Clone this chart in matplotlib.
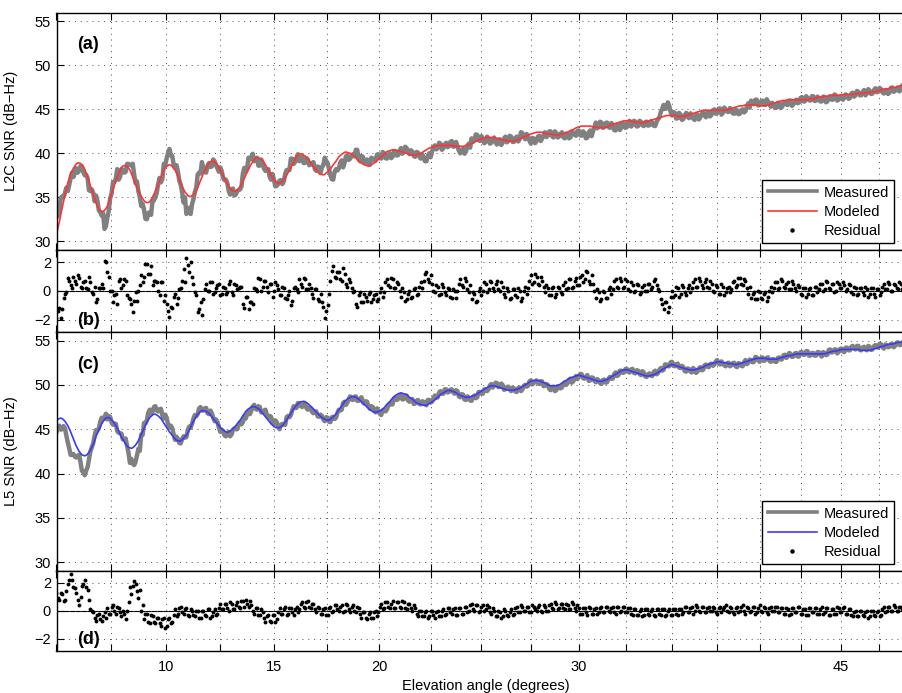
import numpy as np
import matplotlib
matplotlib.use("Agg")
import matplotlib.pyplot as plt
from matplotlib.lines import Line2D

plt.rcParams['font.family'] = ['Liberation Sans', 'DejaVu Sans']

# Samples are evenly spaced in sin(elevation)
N_SAMPLES = 600
elevation = np.degrees(np.arcsin(np.linspace(np.sin(np.radians(5.0)),
                                             np.sin(np.radians(49.05)), N_SAMPLES)))

# L2C modeled SNR (dB-Hz)
l2c_model = [
    30.8, 31.5, 32.2, 33.0, 33.8, 34.55, 35.3, 36.0, 36.6, 37.1, 37.6, 38.0, 38.3, 38.55, 38.8, 38.9, 38.9, 38.85, 38.7, 38.45,
    38.2, 37.75, 37.3, 36.8, 36.3, 35.8, 35.3, 34.85, 34.4, 34.0, 33.7, 33.5, 33.4, 33.4, 33.5, 33.7, 34.0, 34.45, 34.9, 35.4,
    35.9, 36.4, 36.9, 37.3, 37.7, 38.1, 38.4, 38.55, 38.6, 38.6, 38.5, 38.3, 38.1, 37.7, 37.3, 36.9, 36.5, 36.1, 35.7, 35.4,
    35.1, 34.85, 34.6, 34.45, 34.4, 34.4, 34.5, 34.7, 35.0, 35.35, 35.7, 36.1, 36.5, 36.9, 37.3, 37.7, 38.1, 38.35, 38.5, 38.65,
    38.7, 38.65, 38.5, 38.3, 38.1, 37.75, 37.4, 37.0, 36.6, 36.25, 35.9, 35.6, 35.4, 35.2, 35.1, 35.1, 35.2, 35.3, 35.5, 35.8,
    36.1, 36.5, 36.9, 37.3, 37.7, 38.0, 38.3, 38.6, 38.9, 39.05, 39.1, 39.1, 39.0, 38.85, 38.7, 38.4, 38.1, 37.8, 37.5, 37.15,
    36.8, 36.5, 36.2, 36.0, 35.8, 35.7, 35.7, 35.7, 35.8, 36.0, 36.2, 36.5, 36.8, 37.15, 37.5, 37.85, 38.2, 38.5, 38.8, 39.05,
    39.3, 39.45, 39.5, 39.5, 39.4, 39.3, 39.2, 38.95, 38.7, 38.4, 38.1, 37.8, 37.5, 37.25, 37.0, 36.85, 36.7, 36.6, 36.6, 36.65,
    36.8, 37.0, 37.2, 37.5, 37.8, 38.1, 38.4, 38.7, 39.0, 39.3, 39.6, 39.8, 39.9, 39.95, 39.9, 39.8, 39.7, 39.55, 39.4, 39.15,
    38.9, 38.7, 38.5, 38.3, 38.1, 37.9, 37.7, 37.6, 37.6, 37.55, 37.6, 37.75, 37.9, 38.05, 38.2, 38.45, 38.7, 38.9, 39.1, 39.35,
    39.6, 39.75, 39.9, 40.0, 40.1, 40.15, 40.1, 40.05, 40.0, 39.9, 39.8, 39.65, 39.5, 39.3, 39.1, 39.0, 38.9, 38.8, 38.7, 38.65,
    38.6, 38.55, 38.6, 38.7, 38.8, 38.9, 39.0, 39.15, 39.3, 39.45, 39.6, 39.75, 39.9, 40.05, 40.2, 40.25, 40.3, 40.35, 40.4, 40.4,
    40.4, 40.35, 40.3, 40.25, 40.2, 40.15, 40.1, 40.05, 40.0, 39.95, 39.9, 39.85, 39.8, 39.8, 39.8, 39.85, 39.9, 39.95, 40.0, 40.1,
    40.2, 40.3, 40.4, 40.5, 40.6, 40.65, 40.7, 40.75, 40.8, 40.85, 40.9, 40.9, 40.9, 40.9, 40.9, 40.9, 40.9, 40.9, 40.9, 40.9,
    40.9, 40.85, 40.8, 40.8, 40.8, 40.8, 40.8, 40.8, 40.8, 40.85, 40.9, 40.95, 41.0, 41.05, 41.1, 41.2, 41.3, 41.35, 41.4, 41.5,
    41.6, 41.65, 41.7, 41.75, 41.8, 41.8, 41.8, 41.8, 41.8, 41.8, 41.8, 41.75, 41.7, 41.65, 41.6, 41.55, 41.5, 41.5, 41.5, 41.45,
    41.4, 41.4, 41.4, 41.4, 41.4, 41.45, 41.5, 41.55, 41.6, 41.7, 41.8, 41.85, 41.9, 42.0, 42.1, 42.15, 42.2, 42.25, 42.3, 42.35,
    42.4, 42.4, 42.4, 42.4, 42.4, 42.35, 42.3, 42.25, 42.2, 42.2, 42.2, 42.15, 42.1, 42.1, 42.1, 42.1, 42.1, 42.15, 42.2, 42.25,
    42.3, 42.35, 42.4, 42.5, 42.6, 42.65, 42.7, 42.8, 42.9, 42.95, 43.0, 43.05, 43.1, 43.1, 43.1, 43.1, 43.1, 43.1, 43.1, 43.05,
    43.0, 43.0, 43.0, 42.95, 42.9, 42.9, 42.9, 42.9, 42.9, 42.95, 43.0, 43.1, 43.2, 43.25, 43.3, 43.35, 43.4, 43.45, 43.5, 43.55,
    43.6, 43.65, 43.7, 43.7, 43.7, 43.7, 43.7, 43.65, 43.6, 43.6, 43.6, 43.55, 43.5, 43.5, 43.5, 43.5, 43.5, 43.55, 43.6, 43.65,
    43.7, 43.75, 43.8, 43.85, 43.9, 43.95, 44.0, 44.05, 44.1, 44.15, 44.2, 44.25, 44.3, 44.3, 44.3, 44.3, 44.3, 44.3, 44.3, 44.25,
    44.2, 44.2, 44.2, 44.2, 44.2, 44.25, 44.3, 44.35, 44.4, 44.45, 44.5, 44.55, 44.6, 44.65, 44.7, 44.75, 44.8, 44.85, 44.9, 44.9,
    44.9, 44.9, 44.9, 44.9, 44.9, 44.9, 44.9, 44.9, 44.9, 44.9, 44.9, 44.9, 44.9, 44.9, 44.9, 44.95, 45.0, 45.05, 45.1, 45.15,
    45.2, 45.25, 45.3, 45.35, 45.4, 45.4, 45.4, 45.45, 45.5, 45.5, 45.5, 45.5, 45.5, 45.5, 45.5, 45.5, 45.5, 45.45, 45.4, 45.4,
    45.4, 45.4, 45.4, 45.45, 45.5, 45.55, 45.6, 45.65, 45.7, 45.75, 45.8, 45.85, 45.9, 45.95, 46.0, 46.0, 46.0, 46.05, 46.1, 46.1,
    46.1, 46.1, 46.1, 46.1, 46.1, 46.1, 46.1, 46.1, 46.1, 46.1, 46.1, 46.1, 46.1, 46.15, 46.2, 46.2, 46.2, 46.25, 46.3, 46.35,
    46.4, 46.4, 46.4, 46.45, 46.5, 46.5, 46.5, 46.55, 46.6, 46.6, 46.6, 46.6, 46.6, 46.6, 46.6, 46.65, 46.7, 46.7, 46.7, 46.7,
    46.7, 46.7, 46.7, 46.7, 46.7, 46.75, 46.8, 46.8, 46.8, 46.8, 46.8, 46.85, 46.9, 46.9, 46.9, 46.9, 46.9, 46.95, 47.0, 47.0,
    47.0, 47.05, 47.1, 47.15, 47.2, 47.25, 47.3, 47.3, 47.3, 47.35, 47.4, 47.45, 47.5, 47.5, 47.5, 47.55, 47.6, 47.65, 47.7, 47.75,
]

# L2C residual, modeled minus measured (dB)
l2c_resid = [
    -1.9, -1.4, -1.2, -1.9, -1.3, -0.5, -0.2, -0.1, 0.9, 0.7, 0.4, 0.2, 1.0, 0.7, 0.5, 1.1, 0.9, 0.3, 0.2, 0.6,
    0.7, 0.2, 0.1, 1.0, 0.6, -0.1, -0.2, 0.3, -0.8, -0.6, 0.2, 0.2, 0.5, 0.2, 2.1, 2.0, 1.3, 1.0, 0.0, 0.0,
    -0.8, -0.3, -0.2, -0.9, 0.7, 0.8, 0.2, 0.4, 0.8, 0.7, -0.3, -0.5, -0.6, -0.9, -1.5, -0.7, -0.1, -0.7, 0.0, 0.4,
    1.1, 0.6, 1.0, 1.9, 1.9, 1.2, 1.2, 1.7, 0.4, 0.7, 0.7, 0.6, 0.0, -0.3, 0.6, 0.6, -0.7, -0.3, -0.9, -1.4,
    -1.8, -1.1, -1.2, -0.4, -0.2, -0.9, -0.5, 0.1, 0.2, 0.7, 1.5, 0.6, 2.3, 1.8, 1.3, 2.0, 1.0, 0.5, -0.1, -0.3,
    -1.5, -1.3, -0.8, -1.7, -0.6, 0.1, 0.5, 0.0, 0.0, 0.6, 0.6, -0.2, -0.1, 0.2, 0.4, 0.5, -0.3, -0.2, 0.3, 0.2,
    -0.2, -0.1, 0.5, 0.7, -0.1, -0.3, 0.5, 0.4, 0.1, 0.2, 0.3, 0.3, -0.9, -1.2, -0.4, -0.4, -1.3, -0.8, -0.8, -0.9,
    0.2, 0.1, 0.0, 0.9, 0.8, 0.0, 0.3, 0.7, 0.7, 0.3, -0.1, 0.5, 0.5, -0.4, 0.0, 0.6, 0.4, 0.1, -0.3, -0.3,
    0.3, 0.2, -0.5, -0.6, -0.3, 0.0, -1.0, -0.7, 0.2, 0.3, 0.1, -0.1, 0.8, 0.5, 0.3, 0.9, 0.8, 0.1, 0.1, 0.5,
    0.2, -0.2, -0.5, 0.1, 0.1, -0.6, -0.7, -0.2, -0.8, -1.1, -1.9, -1.4, -1.0, -0.2, 0.7, 1.4, 1.7, 1.0, 0.9, 1.3,
    1.3, 0.8, 0.7, 1.6, 1.2, 0.5, 0.3, 0.8, 0.6, 0.2, -0.1, 0.0, -0.9, -1.1, -0.3, -0.1, -0.8, -0.8, -0.2, -0.4,
    -0.7, -0.2, -0.1, -0.8, -0.6, -0.3, -0.2, -0.7, -0.6, -0.1, 0.2, -0.4, -0.1, 0.6, 0.8, 0.4, 0.3, 0.9, 0.8, 0.2,
    0.2, 0.6, 0.5, 0.0, -0.4, 0.2, -0.1, -0.7, -0.6, -0.2, 0.0, -0.5, -0.4, 0.1, 0.2, -0.3, -0.2, 0.3, 0.6, 0.2,
    0.7, 1.2, 1.3, 0.8, 0.6, 1.1, 0.5, 0.0, -0.1, 0.4, 0.3, -0.3, -0.2, 0.5, 0.3, -0.1, -0.3, 0.2, 0.1, -0.4,
    -0.5, 0.1, 0.0, -0.5, 0.0, 0.5, 0.8, 0.4, 0.3, 0.9, 0.7, 0.1, -0.1, 0.4, -0.6, -0.1, -0.2, -0.8, -0.7, 0.0,
    0.2, -0.3, 0.0, 0.6, 0.5, -0.1, 0.1, 0.7, 0.6, 0.2, 0.0, 0.5, 0.7, 0.1, 0.0, 0.6, 0.3, -0.2, -0.4, 0.2,
    0.0, -0.6, -0.5, 0.1, 0.1, -0.3, -0.4, 0.2, 0.0, -0.7, -0.5, 0.0, 0.3, -0.2, 0.2, 0.7, 1.1, 0.5, 0.6, 1.2,
    1.0, 0.5, 0.4, 1.0, 0.7, 0.3, -0.1, 0.4, 0.2, -0.3, -0.3, 0.2, 0.3, -0.4, -0.2, 0.3, 0.2, -0.1, -0.2, 0.4,
    0.6, 0.1, 0.2, 0.8, 0.8, 0.2, 0.3, 0.7, 0.9, 0.4, 0.4, 1.0, 1.1, 0.6, 0.8, 1.4, 1.3, 0.7, 0.5, 1.1,
    0.5, 0.0, -0.5, 0.1, -0.1, -0.7, -0.6, 0.0, -0.1, -0.5, -0.5, 0.1, 0.3, -0.2, 0.1, 0.7, 0.8, 0.3, 0.2, 0.9,
    0.7, 0.2, 0.3, 0.8, 0.7, 0.1, 0.0, 0.6, 0.4, -0.1, 0.0, 0.5, 0.4, -0.2, -0.1, 0.3, 0.4, 0.0, 0.0, 0.5,
    0.5, 0.1, 0.3, 0.7, 0.8, 0.4, 0.1, 0.0, -0.6, -0.9, -1.3, -0.8, -0.8, -1.5, -1.1, -0.4, 0.0, -0.4, -0.3, 0.3,
    0.2, -0.4, -0.2, 0.4, 0.3, -0.1, -0.3, 0.2, 0.4, -0.1, 0.2, 0.6, 0.8, 0.3, 0.3, 0.9, 0.7, 0.4, 0.2, 0.6,
    0.8, 0.3, 0.2, 0.7, 0.5, 0.0, -0.1, 0.4, 0.3, -0.2, -0.2, 0.5, 0.3, -0.3, -0.1, 0.2, 0.3, -0.1, 0.1, 0.6,
    0.7, 0.3, 0.4, 0.9, 0.9, 0.5, 0.4, 0.8, 0.7, 0.2, -0.2, 0.3, -0.5, -0.2, -0.1, -0.6, -0.6, 0.0, -0.1, -0.5,
    -0.6, -0.2, -0.1, -0.7, -0.4, 0.0, 0.3, -0.1, 0.2, 0.6, 0.6, 0.1, 0.2, 0.8, 0.7, 0.3, 0.2, 0.5, 0.6, 0.1,
    0.1, 0.7, 0.5, 0.2, 0.0, 0.4, 0.3, -0.2, -0.3, 0.2, 0.2, -0.4, -0.2, 0.1, 0.2, -0.3, -0.3, 0.3, 0.3, -0.1,
    0.1, 0.5, 0.5, 0.0, 0.1, 0.7, 0.6, 0.2, 0.1, 0.5, 0.5, -0.1, 0.0, 0.6, 0.5, 0.2, 0.2, 0.6, 0.4, 0.0,
    0.1, 0.5, 0.4, -0.1, -0.2, 0.3, 0.2, -0.3, -0.2, 0.2, 0.2, -0.1, -0.3, 0.3, 0.1, -0.4, -0.2, 0.2, 0.2, -0.2,
    -0.4, 0.1, 0.1, -0.3, -0.1, 0.3, 0.5, 0.1, 0.1, 0.6, 0.5, 0.0, 0.0, 0.5, 0.4, 0.2, 0.1, 0.6, 0.5, 0.1,
]

# L5 modeled SNR (dB-Hz)
l5_model = [
    46.0, 46.1, 46.2, 46.25, 46.2, 46.05, 45.9, 45.65, 45.4, 45.05, 44.7, 44.3, 43.9, 43.5, 43.1, 42.8, 42.5, 42.3, 42.1, 42.05,
    42.0, 42.05, 42.2, 42.4, 42.6, 42.95, 43.3, 43.75, 44.2, 44.55, 44.9, 45.25, 45.6, 45.85, 46.1, 46.25, 46.3, 46.3, 46.2, 46.05,
    45.9, 45.65, 45.4, 45.1, 44.8, 44.45, 44.1, 43.85, 43.6, 43.35, 43.1, 42.95, 42.9, 42.85, 42.9, 43.05, 43.2, 43.45, 43.7, 44.05,
    44.4, 44.75, 45.1, 45.45, 45.8, 46.05, 46.3, 46.45, 46.6, 46.7, 46.7, 46.6, 46.5, 46.35, 46.2, 45.95, 45.7, 45.45, 45.2, 44.95,
    44.7, 44.5, 44.3, 44.1, 43.9, 43.75, 43.7, 43.65, 43.7, 43.8, 44.0, 44.15, 44.3, 44.6, 44.9, 45.25, 45.6, 45.9, 46.2, 46.45,
    46.7, 46.85, 47.0, 47.1, 47.1, 47.05, 47.0, 46.9, 46.8, 46.6, 46.4, 46.2, 46.0, 45.8, 45.6, 45.4, 45.2, 45.05, 44.9, 44.8,
    44.7, 44.65, 44.7, 44.8, 44.9, 45.05, 45.2, 45.4, 45.6, 45.8, 46.0, 46.25, 46.5, 46.75, 47.0, 47.15, 47.3, 47.4, 47.5, 47.55,
    47.55, 47.5, 47.4, 47.3, 47.2, 47.0, 46.8, 46.6, 46.4, 46.2, 46.0, 45.8, 45.6, 45.45, 45.3, 45.2, 45.2, 45.15, 45.2, 45.3,
    45.4, 45.6, 45.8, 46.05, 46.3, 46.55, 46.8, 47.05, 47.3, 47.5, 47.7, 47.85, 48.0, 48.1, 48.1, 48.15, 48.1, 48.0, 47.9, 47.75,
    47.6, 47.45, 47.3, 47.1, 46.9, 46.75, 46.6, 46.45, 46.3, 46.2, 46.1, 46.05, 46.0, 46.05, 46.1, 46.25, 46.4, 46.55, 46.7, 46.95,
    47.2, 47.4, 47.6, 47.85, 48.1, 48.25, 48.4, 48.5, 48.6, 48.65, 48.7, 48.65, 48.6, 48.5, 48.4, 48.25, 48.1, 47.95, 47.8, 47.65,
    47.5, 47.35, 47.2, 47.1, 47.0, 46.95, 46.9, 46.95, 47.0, 47.05, 47.1, 47.25, 47.4, 47.6, 47.8, 47.95, 48.1, 48.3, 48.5, 48.65,
    48.8, 48.9, 49.0, 49.05, 49.1, 49.05, 49.0, 48.95, 48.9, 48.75, 48.6, 48.5, 48.4, 48.25, 48.1, 48.0, 47.9, 47.85, 47.8, 47.75,
    47.7, 47.7, 47.7, 47.8, 47.9, 48.0, 48.1, 48.2, 48.3, 48.45, 48.6, 48.75, 48.9, 49.0, 49.1, 49.2, 49.3, 49.35, 49.4, 49.35,
    49.3, 49.25, 49.2, 49.1, 49.0, 48.9, 48.8, 48.75, 48.7, 48.65, 48.6, 48.6, 48.6, 48.65, 48.7, 48.75, 48.8, 48.9, 49.0, 49.1,
    49.2, 49.3, 49.4, 49.5, 49.6, 49.7, 49.8, 49.85, 49.9, 49.9, 49.9, 49.85, 49.8, 49.75, 49.7, 49.65, 49.6, 49.55, 49.5, 49.45,
    49.4, 49.4, 49.4, 49.4, 49.4, 49.45, 49.5, 49.55, 49.6, 49.7, 49.8, 49.9, 50.0, 50.1, 50.2, 50.3, 50.4, 50.45, 50.5, 50.5,
    50.5, 50.5, 50.5, 50.4, 50.3, 50.25, 50.2, 50.1, 50.0, 49.95, 49.9, 49.9, 49.9, 49.9, 49.9, 49.95, 50.0, 50.1, 50.2, 50.3,
    50.4, 50.5, 50.6, 50.7, 50.8, 50.85, 50.9, 50.95, 51.0, 51.05, 51.1, 51.05, 51.0, 50.95, 50.9, 50.85, 50.8, 50.75, 50.7, 50.65,
    50.6, 50.55, 50.5, 50.45, 50.4, 50.4, 50.4, 50.45, 50.5, 50.55, 50.6, 50.7, 50.8, 50.9, 51.0, 51.1, 51.2, 51.3, 51.4, 51.5,
    51.6, 51.65, 51.7, 51.7, 51.7, 51.65, 51.6, 51.55, 51.5, 51.45, 51.4, 51.35, 51.3, 51.25, 51.2, 51.15, 51.1, 51.05, 51.0, 51.0,
    51.0, 51.05, 51.1, 51.15, 51.2, 51.3, 51.4, 51.5, 51.6, 51.7, 51.8, 51.9, 52.0, 52.1, 52.2, 52.25, 52.3, 52.25, 52.2, 52.15,
    52.1, 52.05, 52.0, 51.95, 51.9, 51.85, 51.8, 51.75, 51.7, 51.7, 51.7, 51.7, 51.7, 51.75, 51.8, 51.85, 51.9, 51.95, 52.0, 52.1,
    52.2, 52.25, 52.3, 52.35, 52.4, 52.45, 52.5, 52.55, 52.6, 52.6, 52.6, 52.55, 52.5, 52.5, 52.5, 52.45, 52.4, 52.4, 52.4, 52.35,
    52.3, 52.3, 52.3, 52.35, 52.4, 52.45, 52.5, 52.55, 52.6, 52.65, 52.7, 52.75, 52.8, 52.85, 52.9, 52.95, 53.0, 53.0, 53.0, 53.0,
    53.0, 53.0, 53.0, 52.95, 52.9, 52.9, 52.9, 52.9, 52.9, 52.9, 52.9, 52.95, 53.0, 53.05, 53.1, 53.15, 53.2, 53.25, 53.3, 53.3,
    53.3, 53.35, 53.4, 53.45, 53.5, 53.5, 53.5, 53.5, 53.5, 53.5, 53.5, 53.5, 53.5, 53.5, 53.5, 53.5, 53.5, 53.5, 53.5, 53.5,
    53.5, 53.5, 53.5, 53.5, 53.5, 53.55, 53.6, 53.65, 53.7, 53.75, 53.8, 53.8, 53.8, 53.85, 53.9, 53.95, 54.0, 54.0, 54.0, 54.0,
    54.0, 54.0, 54.0, 54.0, 54.0, 54.0, 54.0, 54.0, 54.0, 53.95, 53.9, 53.9, 53.9, 53.9, 53.9, 53.9, 53.9, 53.95, 54.0, 54.05,
    54.1, 54.15, 54.2, 54.25, 54.3, 54.35, 54.4, 54.45, 54.5, 54.55, 54.6, 54.6, 54.6, 54.65, 54.7, 54.75, 54.8, 54.8, 54.8, 54.85,
]

# L5 residual, modeled minus measured (dB)
l5_resid = [
    1.3, 0.9, 0.8, 1.3, 1.2, 0.7, 0.8, 1.4, 1.9, 2.2, 2.6, 2.2, 1.7, 1.6, 1.3, 0.8, 0.4, 1.0, 1.8, 1.9,
    2.2, 1.7, 1.5, 0.8, 0.1, 0.0, -0.1, -0.5, -0.7, -0.3, -0.2, -0.6, -0.7, -0.4, -0.1, -0.5, 0.2, -0.2, -0.2, 0.3,
    0.4, 0.0, -0.2, 0.3, 0.2, -0.1, -0.4, 0.0, -0.2, -0.6, 0.0, 0.6, 1.7, 1.2, 1.8, 2.1, 1.9, 1.4, 0.9, 1.5,
    0.0, 0.4, -0.6, -0.2, -0.2, -0.8, -0.9, -0.3, -0.4, -0.8, -0.9, -0.5, -0.5, -0.9, -1.1, -0.6, -0.5, -1.2, -1.1, -0.6,
    -0.5, -0.9, -0.8, -0.3, 0.1, -0.4, -0.2, 0.2, 0.3, -0.1, -0.2, 0.1, 0.2, -0.3, -0.4, 0.1, 0.0, -0.3, -0.4, 0.0,
    0.0, -0.5, -0.5, 0.0, 0.0, -0.3, -0.4, 0.1, 0.1, -0.5, -0.4, -0.1, 0.1, -0.3, -0.2, 0.2, 0.5, 0.1, 0.1, 0.5,
    0.5, 0.2, 0.0, 0.6, 0.5, 0.1, 0.1, 0.4, 0.6, 0.3, 0.2, 0.7, 0.7, 0.3, 0.8, 0.5, 0.3, 0.7, 0.4, 0.0,
    -0.2, 0.2, 0.2, -0.3, -0.3, 0.1, -0.1, -0.5, -0.8, -0.4, -0.3, -0.7, -0.8, -0.3, -0.3, -0.8, -0.6, -0.1, 0.2, -0.2,
    -0.2, 0.1, 0.3, -0.3, -0.2, 0.2, 0.2, -0.1, -0.3, 0.1, 0.3, -0.1, 0.1, 0.5, 0.6, 0.3, 0.2, 0.6, 0.7, 0.3,
    0.2, 0.5, 0.5, 0.1, -0.1, 0.3, 0.2, -0.2, -0.2, 0.1, 0.2, -0.3, -0.3, 0.2, 0.3, -0.1, 0.0, 0.4, 0.4, 0.1,
    0.0, 0.3, 0.4, -0.1, 0.0, 0.5, 0.4, 0.1, -0.1, 0.3, 0.4, 0.0, -0.1, 0.3, 0.2, -0.2, -0.5, -0.1, -0.1, -0.5,
    -0.6, -0.2, -0.1, -0.5, -0.5, -0.1, 0.0, -0.4, -0.1, 0.3, 0.5, 0.1, 0.2, 0.6, 0.6, 0.3, 0.2, 0.5, 0.7, 0.2,
    0.2, 0.6, 0.6, 0.3, 0.2, 0.7, 0.6, 0.2, 0.1, 0.5, 0.5, 0.2, 0.0, 0.4, 0.2, -0.2, -0.4, 0.0, 0.0, -0.4,
    -0.4, -0.1, 0.0, -0.5, -0.4, 0.0, 0.0, -0.3, -0.5, -0.1, 0.0, -0.4, -0.4, 0.0, 0.1, -0.3, -0.2, 0.2, 0.2, -0.1,
    -0.2, 0.1, 0.2, -0.3, -0.3, 0.2, 0.2, -0.2, -0.2, 0.3, 0.3, -0.1, 0.0, 0.4, 0.5, 0.1, 0.0, 0.4, 0.4, -0.1,
    0.0, 0.3, 0.4, 0.0, 0.1, 0.4, 0.3, -0.1, -0.2, 0.2, 0.0, -0.4, -0.4, 0.0, -0.1, -0.5, -0.4, 0.1, 0.0, -0.3,
    -0.4, -0.1, 0.1, -0.3, -0.2, 0.2, 0.3, -0.1, -0.1, 0.4, 0.3, 0.0, 0.0, 0.3, 0.3, -0.1, -0.1, 0.4, 0.3, 0.1,
    0.0, 0.3, 0.4, 0.0, -0.1, 0.4, 0.3, 0.0, 0.0, 0.4, 0.5, 0.2, 0.1, 0.6, 0.5, 0.1, 0.2, 0.5, 0.5, 0.2,
    0.1, 0.5, 0.4, 0.1, 0.1, 0.6, 0.5, 0.2, 0.0, 0.4, 0.2, -0.2, -0.2, 0.2, 0.2, -0.1, -0.3, 0.3, 0.2, -0.2,
    -0.2, 0.1, 0.2, -0.2, -0.1, 0.2, 0.3, -0.1, -0.1, 0.3, 0.3, 0.0, -0.1, 0.2, 0.3, -0.1, -0.2, 0.3, 0.3, -0.1,
    0.0, 0.3, 0.3, -0.1, -0.1, 0.2, 0.2, -0.2, -0.3, 0.1, 0.1, -0.3, -0.3, 0.0, 0.1, -0.4, -0.3, 0.1, 0.1, -0.2,
    -0.3, 0.0, 0.1, -0.3, -0.4, 0.1, 0.1, -0.2, -0.3, 0.1, 0.1, -0.4, -0.3, 0.0, 0.1, -0.3, -0.3, 0.1, 0.1, -0.2,
    -0.3, 0.1, 0.1, -0.2, -0.1, 0.3, 0.3, -0.1, -0.1, 0.2, 0.3, -0.2, 0.0, 0.4, 0.3, 0.0, -0.1, 0.3, 0.3, -0.1,
    -0.1, 0.2, 0.3, 0.0, 0.0, 0.3, 0.2, -0.1, -0.2, 0.2, 0.3, -0.1, 0.1, 0.3, 0.4, 0.0, -0.1, 0.3, 0.2, -0.1,
    -0.2, 0.2, 0.3, -0.1, 0.0, 0.3, 0.4, 0.0, -0.2, 0.3, 0.2, -0.1, 0.0, 0.3, 0.3, -0.2, -0.1, 0.2, 0.4, 0.0,
    -0.1, 0.3, 0.2, -0.1, -0.2, 0.2, 0.3, 0.0, 0.0, 0.3, 0.3, -0.1, -0.1, 0.2, 0.2, -0.2, -0.2, 0.2, 0.1, -0.3,
    -0.2, 0.2, 0.2, -0.1, -0.1, 0.3, 0.3, -0.2, -0.2, 0.1, 0.1, -0.3, -0.3, 0.2, 0.2, -0.1, -0.1, 0.2, 0.2, -0.2,
    -0.2, 0.1, 0.3, -0.2, -0.1, 0.2, 0.2, -0.3, -0.3, 0.1, 0.1, -0.2, -0.2, 0.3, 0.2, -0.1, -0.1, 0.2, 0.3, -0.2,
    -0.2, 0.1, 0.1, -0.3, -0.4, -0.1, 0.0, -0.4, -0.4, 0.0, 0.0, -0.3, -0.4, -0.1, 0.0, -0.5, -0.4, 0.0, 0.0, -0.3,
    -0.4, -0.1, 0.0, -0.4, -0.3, 0.1, 0.3, -0.1, 0.0, 0.3, 0.3, 0.0, 0.0, 0.4, 0.3, 0.0, 0.0, 0.3, 0.3, 0.1,
]

# Measured SNR recovered from model and residual
l2c_meas = np.asarray(l2c_model) - np.asarray(l2c_resid)
l5_meas = np.asarray(l5_model) - np.asarray(l5_resid)

x_ticks = np.arange(5.0, 50.01, 2.5)
x_tick_labels = {10.0: '10', 15.0: '15', 20.0: '20', 30.0: '30', 45.0: '45'}
snr_ticks = [30, 35, 40, 45, 50, 55]
res_ticks = [-2, 0, 2]

GRAY = '#808080'
RED = '#ff3333'
BLUE = '#3a3aff'


def to_sine(deg):
    return np.sin(np.radians(deg))


def from_sine(s):
    return np.degrees(np.arcsin(np.clip(s, -1.0, 1.0)))


fig = plt.figure(figsize=(9.02, 6.93), dpi=100)
W, H = 902.0, 693.0
left_px, right_px = 56.5, 915.8


def make_axes(top_px, bottom_px):
    ax = fig.add_axes([left_px / W, 1 - bottom_px / H,
                       (right_px - left_px) / W, (bottom_px - top_px) / H])
    ax.set_xscale('function', functions=(to_sine, from_sine))
    ax.set_xlim(5.0, 50.0)
    ax.set_xticks(x_ticks)
    ax.set_xticklabels([])
    ax.tick_params(direction='in', top=True, right=False, length=5, width=0.8,
                   labelsize=10.5, pad=4)
    ax.grid(True, linestyle=(0, (1, 5)), color='0.3', linewidth=0.7)
    for sp in ax.spines.values():
        sp.set_linewidth(1.0)
        sp.set_color('black')
    return ax


ax_a = make_axes(12.7, 250.0)
ax_b = make_axes(250.0, 331.7)
ax_c = make_axes(331.7, 571.0)
ax_d = make_axes(571.0, 650.7)


def snr_panel(ax, meas, model, color, ylabel, tag):
    ax.plot(elevation, meas, color=GRAY, linewidth=3.2)
    ax.plot(elevation, model, color=color, linewidth=1.2)
    ax.set_ylim(29, 56)
    ax.set_yticks(snr_ticks)
    ax.set_ylabel(ylabel, fontsize=10.5)
    ax.yaxis.set_label_coords(-0.045, 0.5)
    ax.text(0.024, 0.865, tag, transform=ax.transAxes, fontsize=13,
            fontweight='bold', va='center', ha='left')
    handles = [Line2D([], [], color=GRAY, linewidth=2.6),
               Line2D([], [], color=color, linewidth=1.2),
               Line2D([], [], color='black', linestyle='none', marker='o',
                      markersize=2.2)]
    leg = ax.legend(handles, ['Measured', 'Modeled', 'Residual'],
                    loc='lower left', bbox_to_anchor=(0.8215, 0.03),
                    borderaxespad=0, fontsize=10.5, handlelength=3.4,
                    handletextpad=0.45, labelspacing=0.35, borderpad=0.35,
                    fancybox=False, framealpha=1, edgecolor='black')
    leg.get_frame().set_linewidth(1.0)


def resid_panel(ax, meas, model, tag):
    resid = np.asarray(model) - np.asarray(meas)
    ax.axhline(0, color='black', linewidth=0.8, zorder=1.5)
    ax.plot(elevation, resid, linestyle='none', marker='o', markersize=2.8,
            markeredgewidth=0, color='black')
    ax.set_ylim(-2.85, 2.85)
    ax.set_yticks(res_ticks)
    ax.text(0.024, 0.14, tag, transform=ax.transAxes, fontsize=13,
            fontweight='bold', va='center', ha='left')


snr_panel(ax_a, l2c_meas, l2c_model, RED, 'L2C SNR (dB\u2212Hz)', '(a)')
resid_panel(ax_b, l2c_meas, l2c_model, '(b)')
snr_panel(ax_c, l5_meas, l5_model, BLUE, 'L5 SNR (dB\u2212Hz)', '(c)')
resid_panel(ax_d, l5_meas, l5_model, '(d)')

ax_d.set_xticklabels([x_tick_labels.get(float(t), '') for t in x_ticks])
ax_d.tick_params(axis='x', pad=7)
ax_d.set_xlabel('Elevation angle (degrees)', fontsize=10.5, labelpad=3)

fig.savefig('out.png', dpi=100)
